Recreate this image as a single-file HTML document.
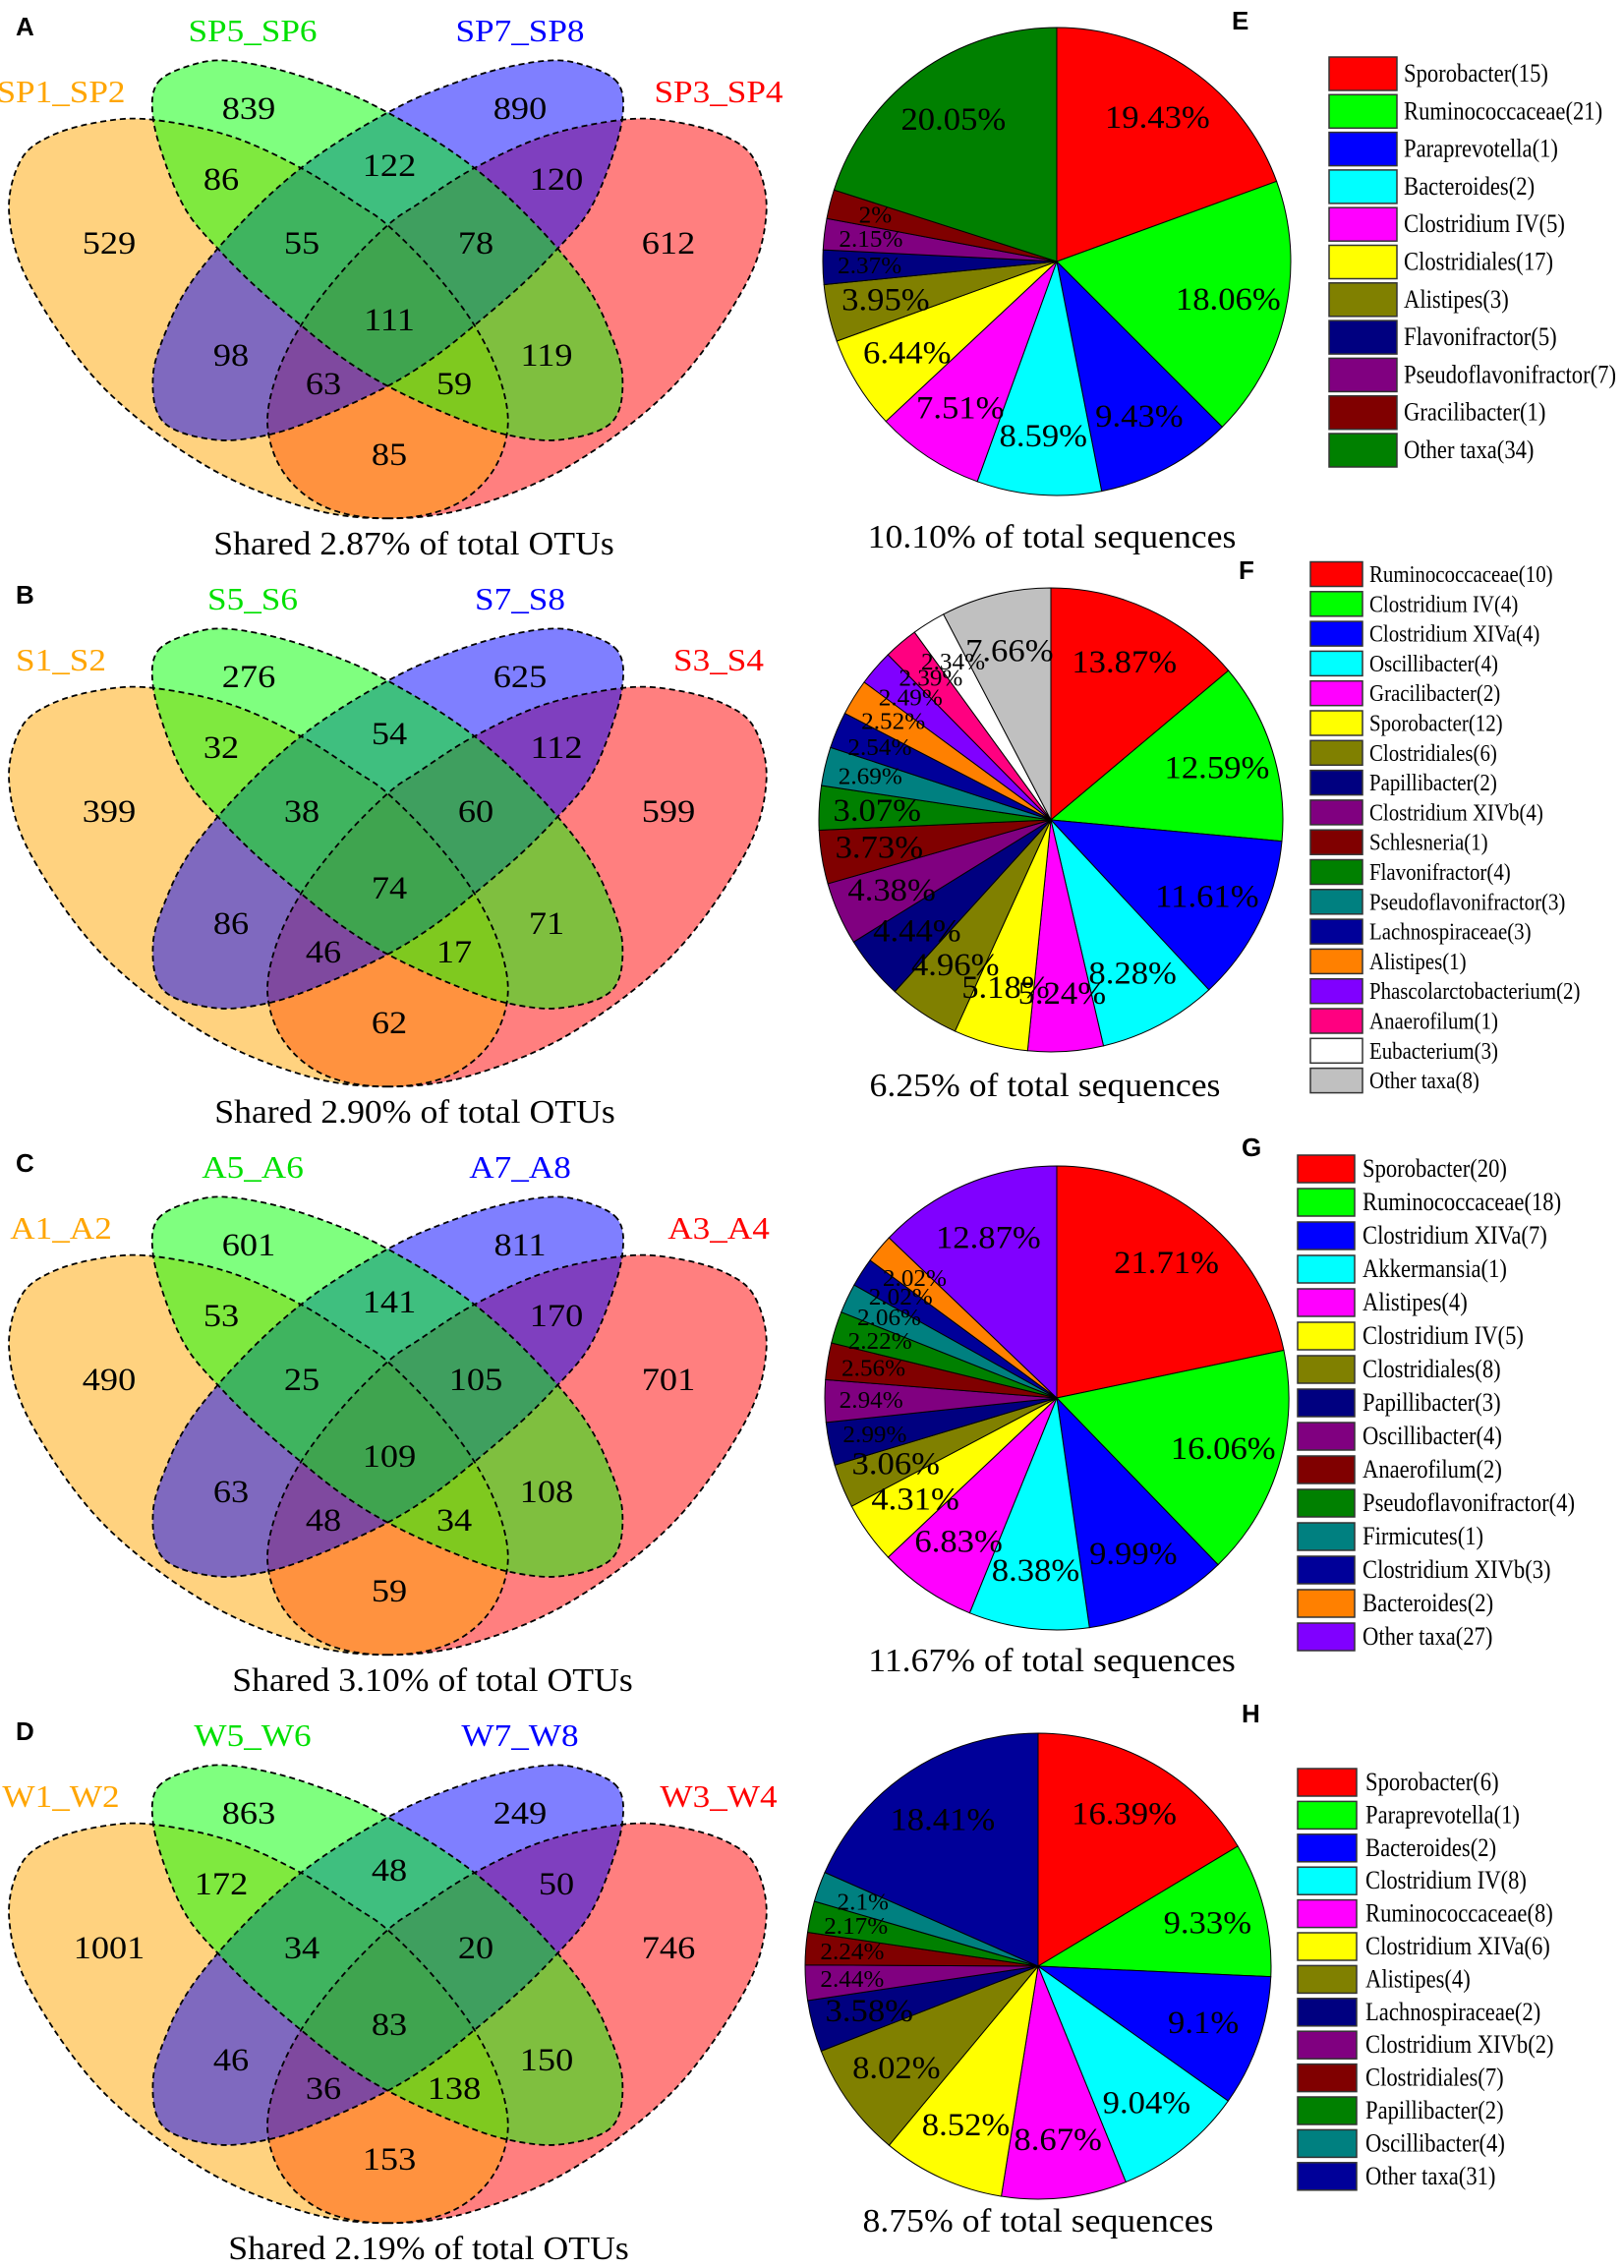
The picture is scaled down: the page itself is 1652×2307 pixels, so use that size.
<!DOCTYPE html>
<html><head><meta charset="utf-8"><style>
html,body{margin:0;padding:0;background:#fff}
svg{display:block}
text{font-family:"Liberation Serif",serif}
.lt{font-family:"Liberation Sans",sans-serif;font-weight:bold}
</style></head><body>
<svg id="fig" width="1652" height="2307" viewBox="0 0 1652 2307" xmlns="http://www.w3.org/2000/svg"></svg>
<script>
// ---------- Venn data ----------
const vennA = [529,839,890,612,86,122,120,55,78,111,98,119,63,59,85];
const vennB = [399,276,625,599,32,54,112,38,60,74,86,71,46,17,62];
const vennC = [490,601,811,701,53,141,170,25,105,109,63,108,48,34,59];
const vennD = [1001,863,249,746,172,48,50,34,20,83,46,150,36,138,153];
const setsA = ["SP1_SP2","SP5_SP6","SP7_SP8","SP3_SP4"];
const setsB = ["S1_S2","S5_S6","S7_S8","S3_S4"];
const setsC = ["A1_A2","A5_A6","A7_A8","A3_A4"];
const setsD = ["W1_W2","W5_W6","W7_W8","W3_W4"];
const sharedA = "Shared 2.87% of total OTUs";
const sharedB = "Shared 2.90% of total OTUs";
const sharedC = "Shared 3.10% of total OTUs";
const sharedD = "Shared 2.19% of total OTUs";
// ---------- Pie data ----------
const pieEvals = [19.43,18.06,9.43,8.59,7.51,6.44,3.95,2.37,2.15,2,20.05];
const pieEnames = ["Sporobacter(15)","Ruminococcaceae(21)","Paraprevotella(1)","Bacteroides(2)","Clostridium IV(5)","Clostridiales(17)","Alistipes(3)","Flavonifractor(5)","Pseudoflavonifractor(7)","Gracilibacter(1)","Other taxa(34)"];
const pieFvals = [13.87,12.59,11.61,8.28,5.24,5.18,4.96,4.44,4.38,3.73,3.07,2.69,2.54,2.52,2.49,2.39,2.34,7.66];
const pieFnames = ["Ruminococcaceae(10)","Clostridium IV(4)","Clostridium XIVa(4)","Oscillibacter(4)","Gracilibacter(2)","Sporobacter(12)","Clostridiales(6)","Papillibacter(2)","Clostridium XIVb(4)","Schlesneria(1)","Flavonifractor(4)","Pseudoflavonifractor(3)","Lachnospiraceae(3)","Alistipes(1)","Phascolarctobacterium(2)","Anaerofilum(1)","Eubacterium(3)","Other taxa(8)"];
const pieGvals = [21.71,16.06,9.99,8.38,6.83,4.31,3.06,2.99,2.94,2.56,2.22,2.06,2.02,2.02,12.87];
const pieGnames = ["Sporobacter(20)","Ruminococcaceae(18)","Clostridium XIVa(7)","Akkermansia(1)","Alistipes(4)","Clostridium IV(5)","Clostridiales(8)","Papillibacter(3)","Oscillibacter(4)","Anaerofilum(2)","Pseudoflavonifractor(4)","Firmicutes(1)","Clostridium XIVb(3)","Bacteroides(2)","Other taxa(27)"];
const pieHvals = [16.39,9.33,9.1,9.04,8.67,8.52,8.02,3.58,2.44,2.24,2.17,2.1,18.41];
const pieHnames = ["Sporobacter(6)","Paraprevotella(1)","Bacteroides(2)","Clostridium IV(8)","Ruminococcaceae(8)","Clostridium XIVa(6)","Alistipes(4)","Lachnospiraceae(2)","Clostridium XIVb(2)","Clostridiales(7)","Papillibacter(2)","Oscillibacter(4)","Other taxa(31)"];
const pieEcaption = "10.10% of total sequences";
const pieFcaption = "6.25% of total sequences";
const pieGcaption = "11.67% of total sequences";
const pieHcaption = "8.75% of total sequences";

const NS="http://www.w3.org/2000/svg";
const svg=document.getElementById('fig');
function mk(tag,attrs,parent){const e=document.createElementNS(NS,tag);for(const k in attrs)e.setAttribute(k,attrs[k]);(parent||svg).appendChild(e);return e;}
function txt(parent,x,y,s,size,fill,sx){
  const t=mk('text',{x:0,y:0,'font-size':size,fill:fill||'#000','text-anchor':'middle','dominant-baseline':'central',transform:`translate(${x},${y}) scale(${sx||1},1)`},parent);
  t.textContent=s;return t;}

// Venn shapes (local coordinates)
const orangePts=[[760,1450],[600,1420],[400,1300],[200,1080],[60,800],[18,600],[40,450],[100,380],[200,340],[300,335],[450,380],[590,470],[700,570],[760,630],[850,760],[930,910],[980,1060],[995,1200],[960,1330],[880,1420]];
const greenPts=[[310,230],[380,180],[450,170],[560,200],[680,260],[760,315],[850,390],[930,470],[1010,570],[1090,690],[1150,800],[1190,910],[1220,1050],[1200,1180],[1100,1230],[990,1215],[880,1160],[760,1080],[670,1000],[590,910],[500,800],[430,700],[370,600],[330,480],[300,330]];
function smoothPath(pts,mirror){
  const p=pts.map(([x,y])=>[(mirror?1520-x:x)/1.927,y/2.75]);
  const n=p.length;let d=`M${p[0][0]},${p[0][1]}`;
  for(let i=0;i<n;i++){const p0=p[(i-1+n)%n],p1=p[i],p2=p[(i+1)%n],p3=p[(i+2)%n];
    const c1=[p1[0]+(p2[0]-p0[0])/6,p1[1]+(p2[1]-p0[1])/6],c2=[p2[0]-(p3[0]-p1[0])/6,p2[1]-(p3[1]-p1[1])/6];
    d+=` C${c1[0]},${c1[1]} ${c2[0]},${c2[1]} ${p2[0]},${p2[1]}`;}
  return d+'Z';}
const regionPos=[[111,247],[253,110],[529,110],[680,247],[225,182],[396,168],[566,182],[307,247],[484,247],[396,325],[235,361],[556,361],[329,390],[462,390],[396,462]];
function venn(dy,counts,sets,caption,letter,capX,name){
  const g=mk('g',{transform:`translate(0,${dy})`});
  
  
  const shapes=[[orangePts,true,'#ff0000','set-4-ellipse'],[orangePts,false,'#ffa500','set-1-ellipse'],[greenPts,true,'#0000ff','set-3-ellipse'],[greenPts,false,'#00ff00','set-2-ellipse']];
  shapes.forEach(([pts,m,c,nm])=>{const p=mk('path',{d:smoothPath(pts,m),fill:c,'fill-opacity':0.5,stroke:'none'},g);
    
    });
  shapes.forEach(([pts,m])=>{mk('path',{d:smoothPath(pts,m),fill:'none',stroke:'#000','stroke-width':1.8,'stroke-dasharray':'6,4'},g);});
  counts.forEach((v,i)=>{const t=txt(g,regionPos[i][0],regionPos[i][1],String(v),33,'#000',1.1);
    
    });
  const lp=[[62,94,'#ffa500'],[257,32,'#00e000'],[529,32,'#0000ff'],[731,94,'#ff0000']];
  sets.forEach((s,i)=>{const t=txt(g,lp[i][0],lp[i][1],s,32,lp[i][2],1.1);
    
    });
  const c=txt(svg,capX,dy+553,caption,34,'#000',1.05);
  
  
  const L=mk('text',{x:16,y:dy+36,'font-size':26,class:'lt'});L.textContent=letter;
  
  
}
venn(0,vennA,setsA,sharedA,'A',421,'venn-a');
venn(578,vennB,setsB,sharedB,'B',422,'venn-b');
venn(1156,vennC,setsC,sharedC,'C',440,'venn-c');
venn(1734,vennD,setsD,sharedD,'D',436,'venn-d');

const colE=['#ff0000','#00ff00','#0000ff','#00ffff','#ff00ff','#ffff00','#808000','#000080','#800080','#800000','#008000'];
const colF=['#ff0000','#00ff00','#0000ff','#00ffff','#ff00ff','#ffff00','#808000','#000080','#800080','#800000','#008000','#008080','#000099','#ff8000','#8000ff','#ff0080','#ffffff','#c0c0c0'];
const colG=['#ff0000','#00ff00','#0000ff','#00ffff','#ff00ff','#ffff00','#808000','#000080','#800080','#800000','#008000','#008080','#000099','#ff8000','#8000ff'];
const colH=['#ff0000','#00ff00','#0000ff','#00ffff','#ff00ff','#ffff00','#808000','#000080','#800080','#800000','#008000','#008080','#000099'];
function pie(vals,names,cols,cx,cy,r,caption,capX,capY,letter,lx,ly,leg,name){
  const g=mk('g',{});
  
  
  const tot=vals.reduce((a,b)=>a+b,0);let a0=0;
  vals.forEach((v,i)=>{const a1=a0+v/tot*2*Math.PI;
    const x0=cx+r*Math.sin(a0),y0=cy-r*Math.cos(a0),x1=cx+r*Math.sin(a1),y1=cy-r*Math.cos(a1);
    const p=mk('path',{d:`M${cx},${cy} L${x0},${y0} A${r},${r} 0 ${a1-a0>Math.PI?1:0} 1 ${x1},${y1} Z`,fill:cols[i],stroke:'#000','stroke-width':1},g);
    
    
    a0=a1;});
  a0=0;
  vals.forEach((v,i)=>{const a1=a0+v/tot*2*Math.PI,am=(a0+a1)/2;const rr=v<3?0.8*r:0.75*r;
    const t=txt(g,cx+rr*Math.sin(am),cy-rr*Math.cos(am),v+'%',v<3?24:33,'#000',1.05);
    
    
    a0=a1;});
  const c=txt(svg,capX,capY,caption,34,'#000',1.05);
  
  
  const L=mk('text',{x:lx,y:ly,'font-size':26,class:'lt'});L.textContent=letter;
  
  
  const lg=mk('g',{});
  
  
  names.forEach((n,i)=>{const y=leg.y+i*leg.dy;
    const b=mk('rect',{x:leg.x,y:y-leg.h/2,width:leg.w,height:leg.h,fill:cols[i],stroke:'#333','stroke-width':1.5},lg);
    
    
    const t=mk('text',{x:0,y:0,'font-size':leg.fs,'dominant-baseline':'central',transform:`translate(${leg.tx},${y}) scale(0.87,1)`},lg);
    t.textContent=n;
    
    });
}
pie(pieEvals,pieEnames,colE,1075,266,238,pieEcaption,1070,546,'E',1253,30,{x:1352,y:75,dy:38.3,w:69,h:34,tx:1428,fs:26},'pie-e');
pie(pieFvals,pieFnames,colF,1069,834,236,pieFcaption,1063,1104,'F',1260,589,{x:1333,y:584,dy:30.3,w:53,h:25,tx:1393,fs:24},'pie-f');
pie(pieGvals,pieGnames,colG,1075,1422,236,pieGcaption,1070,1689,'G',1263,1176,{x:1320,y:1189,dy:34,w:58,h:28,tx:1386,fs:26},'pie-g');
pie(pieHvals,pieHnames,colH,1056,2000,237,pieHcaption,1056,2259,'H',1263,1752,{x:1320,y:1813,dy:33.4,w:60,h:28,tx:1389,fs:26},'pie-h');
</script>
</body></html>
